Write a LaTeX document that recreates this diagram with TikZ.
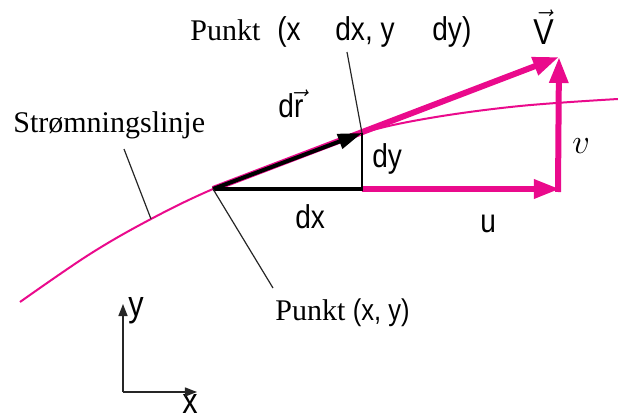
\documentclass[tikz,border=0pt]{standalone}
\usepackage{fontspec}
\setmainfont{Liberation Serif}
\setsansfont[FakeStretch=0.85]{Liberation Sans}
\usetikzlibrary{arrows.meta}
\definecolor{pinkc}{RGB}{234,10,140}
\begin{document}
\begin{tikzpicture}[x=0.5pt,y=-0.5pt,
  serif/.style={font=\fontsize{15}{18}\selectfont, inner sep=0pt, anchor=base west},
  sans/.style={font=\fontsize{16.5}{19}\selectfont\sffamily, inner sep=0pt, anchor=base west},
  pinkthick/.style={draw=pinkc, line width=3pt},
  pinkhead/.style={-{Triangle[length=13pt,width=9pt]}},
  blackhead/.style={-{Triangle[length=12pt,width=7.5pt]}},
  leader/.style={draw=black!85, line width=0.6pt},
  axis/.style={draw=black!85, line width=0.7pt, -{Triangle[length=6pt,width=4.5pt]}}]
\useasboundingbox (0,0) rectangle (618,418);
% key points
\coordinate (P) at (213,189);
\coordinate (Q) at (362,133);
\coordinate (R) at (362,189);
\coordinate (U) at (558,189);
\coordinate (T) at (559,57);
\coordinate (O) at (123,392);
\coordinate (Yend) at (123,304);
\coordinate (Xend) at (197,392);
\coordinate (S) at (151,219);
% streamline
\draw[pinkc, line width=1pt] plot[smooth, tension=0.6] coordinates
  {(20,302) (90,254) (151,219) (213,189) (290,159) (362,133) (430,118) (520,106) (618,99)};
% velocity vectors
\draw[pinkthick, pinkhead] (P) -- (T);
\draw[pinkthick, pinkhead, shorten >=-1pt] (R) -- (U);
\draw[pinkthick, pinkhead] ([yshift=-1.5pt]U) -- (T);
% triangle
\draw[black, line width=2pt] (P) -- (R);
\draw[black, line width=0.8pt] ([yshift=-1pt]R) -- (Q);
\draw[black, line width=2pt, blackhead] (P) -- (Q);
% labels
\node[serif] (strom) at (13,132) {Strømningslinje};
\node[serif] (punkt1) at (190,40) {Punkt};
\node[sans] (p1a) at (277,40) {(x};
\node[sans] (p1b) at (335,40) {dx, y};
\node[sans] (p1c) at (432,40) {dy)};
\node[serif] (punkt0) at (275,320) {Punkt \textsf{(x, y)}};
\node[sans, font=\fontsize{18}{20}\selectfont\sffamily] (Vlab) at (533,44) {$\vec{\textsf{V}}$};
\node[sans] (drlab) at (278,117) {d$\vec{\textsf{r}}$};
\node[sans] (dylab) at (372,167) {dy};
\node[sans] (dxlab) at (295,228) {dx};
\node[sans] (ulab) at (480,232) {u};
\node[serif, font=\fontsize{17}{20}\selectfont] (vlab) at (572,153) {$v$};
\node[sans, font=\fontsize{18}{20}\selectfont\sffamily] (ylab) at (128,316) {y};
\node[sans, font=\fontsize{18}{20}\selectfont\sffamily] (xlab) at (182,413) {x};
% leaders
\draw[leader] (124,149) -- (S);
\draw[leader] (P) -- (273,288);
\draw[leader] (Q) -- (347,52);
% axes
\draw[axis] (O) -- (Yend);
\draw[axis] (O) -- (Xend);
\end{tikzpicture}
\end{document}
